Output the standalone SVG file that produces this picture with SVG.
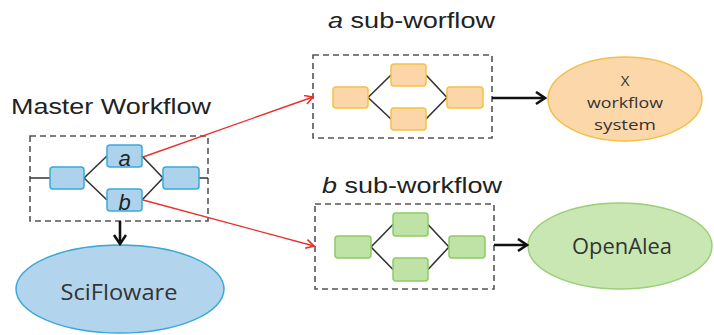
<svg xmlns="http://www.w3.org/2000/svg" width="714" height="335" viewBox="0 0 714 335">
<defs>
<style>
.title{font-family:"Liberation Sans",Arial,sans-serif;font-size:22px;fill:#222}
.lbl{font-family:"Open Sans","Liberation Sans",sans-serif;fill:#333;text-anchor:middle}
.dash{fill:none;stroke:#555;stroke-width:1.6;stroke-dasharray:6 4}
.edge{fill:none;stroke:#333;stroke-width:1.6}
.blue{fill:#acd2ec;stroke:#3aa9d9;stroke-width:1.5}
.orange{fill:#fcd6a8;stroke:#f4c240;stroke-width:1.5}
.green{fill:#bfe3a6;stroke:#8fcb64;stroke-width:1.5}
.red{fill:none;stroke:#e8302a;stroke-width:1.4}
.blk{fill:none;stroke:#111;stroke-width:2.6}
</style>
<marker id="ra" markerWidth="12" markerHeight="12" refX="9" refY="5" orient="auto" markerUnits="userSpaceOnUse">
<path d="M1,0.5 L9,5 L1,9.5" fill="none" stroke="#e8302a" stroke-width="1.6"/>
</marker>
<marker id="ba" markerWidth="14" markerHeight="16" refX="11" refY="7" orient="auto" markerUnits="userSpaceOnUse">
<path d="M2,1 L11,7 L2,13" fill="none" stroke="#111" stroke-width="2.6"/>
</marker>
</defs>

<g id="master-workflow">
<text class="title" x="11" y="114" textLength="200" lengthAdjust="spacingAndGlyphs">Master Workflow</text>
<rect class="dash" x="30" y="136" width="178" height="85"/>
<path class="edge" d="M30,178 H50 M84,178 L107,156 M84,178 L107,200 M142,156 L163,178 M142,200 L163,178 M199,178 H208"/>
<rect id="m1" class="blue" x="50" y="167" width="34" height="22" rx="3"/>
<g id="node-a"><rect class="blue" x="107" y="145" width="35" height="22" rx="3"/>
<text x="124.5" y="166" font-family="Liberation Sans,Arial,sans-serif" font-size="22" font-style="italic" fill="#222" text-anchor="middle">a</text></g>
<g id="node-b"><rect class="blue" x="107" y="189" width="35" height="22" rx="3"/>
<text x="124.5" y="210" font-family="Liberation Sans,Arial,sans-serif" font-size="22" font-style="italic" fill="#222" text-anchor="middle">b</text></g>
<rect id="m4" class="blue" x="163" y="167" width="36" height="22" rx="3"/>
</g>

<g id="a-sub-workflow">
<text class="title" x="328" y="28" textLength="167" lengthAdjust="spacingAndGlyphs"><tspan font-style="italic">a</tspan> sub-worflow</text>
<rect class="dash" x="313" y="55" width="179" height="83"/>
<path class="edge" d="M368,97.5 L391,75 M368,97.5 L391,119 M426,75 L447,97.5 M426,119 L447,97.5"/>
<rect class="orange" x="333" y="87" width="35" height="21" rx="3"/>
<rect class="orange" x="391" y="64" width="35" height="22" rx="3"/>
<rect class="orange" x="391" y="108" width="35" height="22" rx="3"/>
<rect class="orange" x="447" y="87" width="36" height="21" rx="3"/>
</g>

<g id="b-sub-workflow">
<text class="title" x="322" y="193" textLength="180" lengthAdjust="spacingAndGlyphs"><tspan font-style="italic">b</tspan> sub-workflow</text>
<rect class="dash" x="315" y="204" width="179" height="85"/>
<path class="edge" d="M371,247 L393,224.5 M371,247 L393,269.5 M428,224.5 L449,247 M428,269.5 L449,247"/>
<rect class="green" x="335" y="236" width="36" height="22" rx="3"/>
<rect class="green" x="393" y="213" width="35" height="23" rx="3"/>
<rect class="green" x="393" y="258" width="35" height="23" rx="3"/>
<rect class="green" x="449" y="236" width="36" height="22" rx="3"/>
</g>

<g id="x-workflow-system">
<ellipse cx="625" cy="99" rx="77" ry="42" fill="#fcd7a9" stroke="#f2c04c" stroke-width="1.5"/>
<text class="lbl" font-size="15" x="625" y="86">X</text>
<text class="lbl" font-size="15" x="625" y="108" textLength="76" lengthAdjust="spacingAndGlyphs">workflow</text>
<text class="lbl" font-size="15" x="625" y="130" textLength="62" lengthAdjust="spacingAndGlyphs">system</text>
</g>

<g id="openalea">
<ellipse cx="620" cy="246" rx="92" ry="43" fill="#c8e7b2" stroke="#9ccf78" stroke-width="1.5"/>
<text class="lbl" font-size="21" x="622" y="254" textLength="100" lengthAdjust="spacingAndGlyphs">OpenAlea</text>
</g>

<g id="scifloware">
<ellipse cx="120" cy="289" rx="104" ry="44" fill="#b2d4ec" stroke="#3aa9d9" stroke-width="1.5"/>
<text class="lbl" font-size="21" x="119" y="300" textLength="117" lengthAdjust="spacingAndGlyphs">SciFloware</text>
</g>

<g id="connectors">
<path class="red" d="M143,157 L313,97" marker-end="url(#ra)"/>
<path class="red" d="M143,200 L314,246" marker-end="url(#ra)"/>
<path class="blk" d="M492,98 H545" marker-end="url(#ba)"/>
<path class="blk" d="M494,245 H527" marker-end="url(#ba)"/>
<path class="blk" d="M120,221 V244" marker-end="url(#ba)"/>
</g>
</svg>
